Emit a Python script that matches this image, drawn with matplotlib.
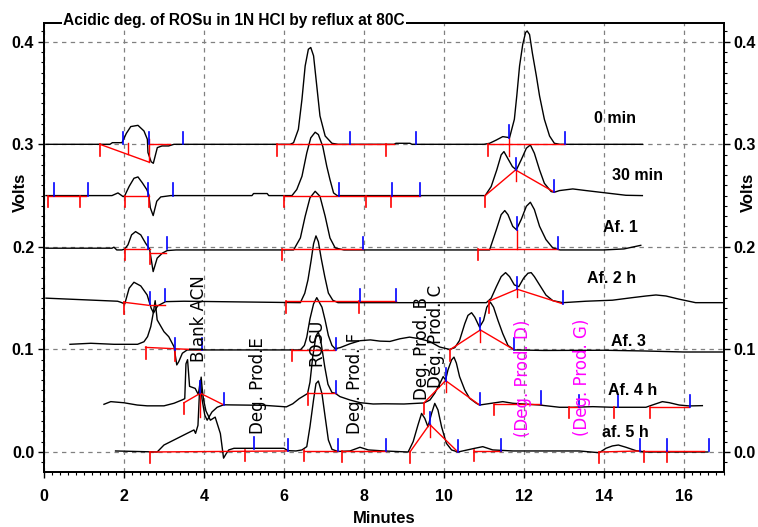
import matplotlib
matplotlib.use('Agg')
import matplotlib.pyplot as plt
from matplotlib.ticker import MultipleLocator, FormatStrFormatter

# ---- chromatogram data (minutes, volts above each trace's own baseline) ----
trace_names = ['0 min', '30 min', 'Af. 1', 'Af. 2 h', 'Af. 3', 'Af. 4 h', 'af. 5 h']
offsets = [0.300, 0.250, 0.198, 0.147, 0.0995, 0.048, 0.0]
label_x = [14.28, 14.85, 14.41, 14.18, 14.61, 14.71, 14.53]
label_y = [0.325, 0.270, 0.219, 0.169, 0.108, 0.060, 0.019]

t0_x = [0.05, 1.65, 1.71, 1.80, 1.95, 2.06, 2.17, 2.35, 2.50, 2.585, 2.60, 2.68, 2.734, 2.834,
        2.95, 3.116, 3.25, 6.157, 6.24, 6.36, 6.45, 6.53, 6.61, 6.67, 6.74, 6.82, 6.90, 7.03,
        7.20, 7.35, 8.75, 8.8, 9.15, 9.2, 11.0, 11.14, 11.30, 11.47, 11.64, 11.76, 11.82, 11.89,
        11.97, 12.04, 12.08, 12.14, 12.21, 12.31, 12.39, 12.51, 12.64, 12.76, 12.9, 14.96]
t0_y = [0, 0, 0.0016, 0.0016, 0.0016, 0.0107, 0.0173, 0.0185, 0.013, 0.0049, -0.008, -0.017,
        -0.0185, -0.0032, -0.0016, -0.0016, 0, 0, 0.0016, 0.0146, 0.0439, 0.0764, 0.0927,
        0.0944, 0.0863, 0.0570, 0.0277, 0.0081, 0.001, 0, 0, 0.001, 0.001, 0, 0, 0.001, 0.004,
        0.0075, 0.0065, 0.0244, 0.0471, 0.0764, 0.0976, 0.109, 0.1105, 0.107, 0.089, 0.0666,
        0.0471, 0.0244, 0.0081, 0.001, 0, 0]

t1_x = [0.05, 1.70, 1.85, 1.98, 2.02, 2.13, 2.25, 2.35, 2.46, 2.57, 2.62, 2.66, 2.73, 2.82,
        2.92, 3.17, 5.20, 5.24, 5.58, 5.62, 6.20, 6.32, 6.45, 6.57, 6.67, 6.78, 6.86, 6.97,
        7.07, 7.15, 7.24, 7.33, 11.03, 11.18, 11.32, 11.43, 11.50, 11.57, 11.71, 11.81, 11.93,
        12.06, 12.16, 12.26, 12.39, 12.51, 12.68, 12.76, 12.89, 13.22, 13.55, 14.05, 14.55, 14.96]
t1_y = [0, 0, 0.0026, -0.001, 0, 0.009, 0.0169, 0.0182, 0.0124, 0.0059, 0.001, -0.012,
        -0.0195, -0.0055, -0.0013, 0, 0, 0.002, 0.002, 0, 0, 0.0059, 0.0188, 0.0416, 0.0563,
        0.0618, 0.0595, 0.048, 0.0286, 0.0156, 0.0026, 0, 0, 0.0088, 0.0250, 0.0397, 0.0429,
        0.0380, 0.0283, 0.0250, 0.0348, 0.0462, 0.0494, 0.0413, 0.0250, 0.0120, 0.0039,
        0.0033, 0.0049, 0.0065, 0.0049, 0.0026, 0.0003, 0]

t2_x = [0.05, 1.5, 1.70, 1.75, 1.82, 1.95, 2.02, 2.10, 2.19, 2.29, 2.42, 2.54, 2.64, 2.73,
        2.83, 2.96, 3.08, 3.3, 6.24, 6.41, 6.53, 6.65, 6.78, 6.90, 7.03, 7.15, 7.28, 7.5, 11.14,
        11.31, 11.43, 11.52, 11.60, 11.72, 11.81, 11.93, 12.06, 12.16, 12.26, 12.39, 12.55,
        12.72, 12.9, 14.0, 14.5, 14.92]
t2_y = [0.0007, 0.0007, 0.0007, 0.0017, -0.001, -0.001, 0, 0.004, 0.0137, 0.0169, 0.0137,
        0.0056, 0, -0.0221, -0.009, -0.0041, -0.0016, -0.001, -0.001, 0.0107, 0.0318, 0.0498,
        0.0562, 0.0513, 0.0318, 0.0107, 0.001, -0.001, -0.001, 0.0188, 0.0334, 0.0374, 0.0334,
        0.0220, 0.0188, 0.0286, 0.0416, 0.0455, 0.0384, 0.0220, 0.0091, 0.001, -0.001, -0.001,
        0.0, 0.0035]

t3_x = [0.05, 1.84, 1.92, 2.02, 2.13, 2.25, 2.42, 2.58, 2.68, 2.74, 2.84, 3.04, 3.5, 6.41,
        6.52, 6.60, 6.68, 6.74, 6.80, 6.86, 6.93, 7.02, 7.11, 7.22, 7.35, 11.06, 11.18, 11.31,
        11.43, 11.54, 11.64, 11.76, 11.87, 11.99, 12.10, 12.18, 12.26, 12.39, 12.55, 12.72,
        12.97, 13.55, 14.21, 14.71, 15.05, 15.30, 15.55, 15.88, 16.29, 17.0]
t3_y = [0.003, 0, -0.001, -0.0026, 0.0127, 0.0185, 0.0149, 0.0061, -0.0068, -0.0114, -0.0046,
        -0.0004, 0, -0.0014, 0.0078, 0.0208, 0.040, 0.056, 0.0637, 0.058, 0.042, 0.024, 0.008,
        0.001, -0.0014, -0.0014, 0.0029, 0.0142, 0.024, 0.0279, 0.024, 0.0159, 0.0142, 0.0224,
        0.0273, 0.0279, 0.024, 0.0159, 0.006, 0.0006, -0.0014, 0, 0.001, 0.0035, 0.0051,
        0.0061, 0.0051, 0.002, -0.0014, -0.0014]

t4_x = [0.65, 1.17, 1.75, 2.34, 2.50, 2.59, 2.67, 2.73, 2.78, 2.83, 3.00, 3.12, 3.25, 3.32,
        3.37, 3.46, 3.58, 6.41, 6.51, 6.57, 6.65, 6.74, 6.82, 6.95, 7.03, 7.11, 7.20, 7.28,
        7.40, 7.65, 7.90, 8.16, 8.40, 8.65, 8.90, 9.14, 9.39, 9.64, 9.89, 10.14, 10.27, 10.39,
        10.52, 10.60, 10.69, 10.77, 10.89, 10.99, 11.07, 11.16, 11.24, 11.35, 11.47, 11.60,
        11.76, 12.5, 14.0, 15.0, 16.0, 17.0]
t4_y = [0.0055, 0.0065, 0.0055, 0.0055, 0.008, 0.013, 0.0227, 0.0355, 0.048, 0.0293, 0.0178,
        0.0129, 0.0032, -0.0146, -0.0114, -0.0032, 0, 0, 0.0044, 0.0125, 0.0303, 0.0449, 0.051,
        0.0417, 0.0288, 0.0141, 0.0044, 0.0012, 0.0022, 0.006, 0.009, 0.0098, 0.0086, 0.0083,
        0.0109, 0.0125, 0.0109, 0.0083, 0.0029, 0.0005, 0.0022, 0.0093, 0.0256, 0.0337, 0.0363,
        0.032, 0.0222, 0.0288, 0.0417, 0.0466, 0.0417, 0.0288, 0.0159, 0.0044, 0.0, -0.0005,
        -0.0003, -0.001, -0.002, -0.002]

t5_x = [1.50, 1.67, 2.00, 2.33, 2.58, 3.00, 3.25, 3.45, 3.52, 3.55, 3.59, 3.64, 3.78, 3.86,
        3.91, 3.95, 4.02, 4.08, 4.20, 4.33, 4.49, 5.5, 6.06, 6.22, 6.38, 6.59, 6.65, 6.72, 6.80,
        6.86, 6.93, 7.02, 7.10, 7.20, 7.28, 7.40, 7.65, 7.90, 8.23, 8.5, 9.0, 9.50, 9.65, 9.77,
        9.90, 9.98, 10.04, 10.10, 10.19, 10.25, 10.31, 10.39, 10.52, 10.64, 10.81, 10.89, 11.47,
        11.72, 12.39, 12.89, 13.22, 13.72, 14.21, 15.05, 15.21, 15.46, 15.63, 15.88, 16.13, 16.46]
t5_y = [-0.0015, 0.0011, 0.0, -0.0022, -0.003, -0.003, -0.0005, 0.0027, 0.004, 0.038, 0.042,
        0.016, 0.014, 0.008, 0.022, 0.004, -0.012, -0.017, -0.009, -0.0044, -0.002, -0.0025,
        -0.004, -0.001, 0.004, 0.009, 0.02, 0.045, 0.065, 0.069, 0.058, 0.035, 0.018, 0.010,
        0.0093, 0.006, 0.0027, 0.0001, -0.0012, -0.001, -0.0012, -0.0002, 0.0027, 0.0093,
        0.0190, 0.0255, 0.0222, 0.0320, 0.0418, 0.0445, 0.0387, 0.0255, 0.0125, 0.0044,
        -0.0005, -0.0022, 0.0011, -0.0005, -0.0022, -0.0044, -0.0044, -0.0038, -0.0044,
        -0.0044, -0.0022, 0.0011, 0.0001, -0.0022, -0.0031, -0.0028]

t6_x = [1.79, 2.83, 3.00, 3.25, 3.58, 3.75, 3.79, 3.85, 3.89, 3.93, 3.96, 3.99, 4.05, 4.16,
        4.28, 4.41, 4.49, 4.55, 4.62, 4.75, 6.0, 6.1, 6.3, 6.45, 6.57, 6.65, 6.74, 6.80, 6.86,
        6.95, 7.03, 7.11, 7.20, 7.35, 7.65, 7.90, 8.11, 8.5, 9.105, 9.23, 9.35, 9.44, 9.52,
        9.60, 9.69, 9.77, 9.85, 9.94, 10.06, 10.19, 10.35, 10.77, 10.97, 11.22, 11.72, 13.38,
        13.88, 14.05, 14.21, 14.36, 14.55, 14.80, 15.05, 16.6]
t6_y = [0.001, 0.0, 0.0068, 0.0117, 0.0182, 0.0215, 0.0182, 0.026, 0.06, 0.073, 0.06, 0.051,
        0.04, 0.031, 0.034, 0.018, -0.006, -0.002, 0.002, 0.0036, 0.0036, 0.0013, 0.001, 0.002,
        0.0052, 0.0247, 0.051, 0.0667, 0.0692, 0.0569, 0.0341, 0.0117, 0.0026, 0.0005, 0.001,
        0.0046, 0.002, 0.001, 0.0, 0.0101, 0.0263, 0.0376, 0.0328, 0.0246, 0.0376, 0.0474,
        0.0410, 0.0246, 0.0085, 0.002, 0.0, 0.0036, 0.0052, 0.002, 0.001, 0.001, -0.0007,
        0.0036, 0.0059, 0.0068, 0.0046, 0.0013, 0.0, 0.0]

# integration baselines (x0, y0, x1, y1), start/end marks (x, y)
red0 = [(1.40, 0, 2.62, -0.0173), (2.09, 0.0016, 2.09, -0.0097), (2.62, 0.0049, 2.62, -0.0173),
        (2.62, 0, 3.15, 0), (5.82, 0, 8.75, 0), (11.10, 0, 13.03, 0), (11.62, 0.0065, 11.62, -0.011)]
red1 = [(0.09, 0, 1.05, 0), (2.02, 0, 2.62, 0), (6.0, 0, 9.41, 0), (11.03, 0, 11.79, 0.025),
        (11.79, 0.025, 12.76, 0.0033), (11.79, 0.025, 11.79, 0.0139)]
red2 = [(2.02, 0, 2.64, 0), (2.66, -0.004, 3.05, -0.004), (5.95, 0, 7.98, 0), (10.85, 0, 12.86, 0),
        (11.82, 0.0188, 11.82, 0)]
red3 = [(2.0, -0.001, 2.62, -0.004), (2.66, -0.004, 3.02, -0.004), (6.05, 0, 8.8, 0),
        (11.12, 0, 11.83, 0.0117), (11.83, 0.0117, 12.97, -0.0025), (11.83, 0.0117, 11.83, 0.0045)]
red4 = [(2.54, 0.0025, 3.94, 0.0), (6.2, 0, 7.28, 0.0), (10.14, 0, 10.91, 0.0195),
        (10.91, 0.0195, 11.76, 0), (10.91, 0.0195, 10.91, 0.008)]
red5 = [(3.50, 0.0, 3.91, 0.0093), (3.91, 0.0093, 4.49, -0.002), (3.91, 0.0093, 3.91, -0.0135),
        (6.61, 0.0093, 7.30, 0.0093), (9.50, -0.0002, 10.04, 0.0216), (10.04, 0.0216, 10.89, -0.0022),
        (10.04, 0.0216, 10.04, 0.0108), (11.25, -0.001, 12.43, -0.001), (13.12, -0.004, 13.37, -0.004),
        (15.15, -0.004, 16.13, -0.004)]
red6 = [(2.64, 0, 6.09, 0.001), (6.51, 0.001, 7.35, 0.001), (7.45, 0.001, 8.54, 0.001),
        (9.15, 0, 9.64, 0.027), (9.64, 0.027, 10.35, 0), (9.64, 0.027, 9.64, 0.0149),
        (10.75, 0.001, 11.43, 0.001), (13.88, 0, 14.9, 0.001), (15.0, 0.001, 16.5, 0.001)]

rdn0 = [(1.40, 0), (5.82, 0), (8.56, 0), (11.10, 0)]
rdn1 = [(0.09, 0), (0.90, 0), (2.02, 0), (2.62, 0), (6.0, 0), (8.04, 0), (8.67, 0), (11.03, 0)]
rdn2 = [(2.02, 0), (2.66, -0.004), (5.95, 0), (10.85, 0)]
rdn3 = [(2.0, -0.001), (6.05, 0), (7.88, 0), (11.12, 0)]
rdn4 = [(2.54, 0.0025), (3.27, 0.0), (6.2, 0), (10.14, 0)]
rdn5 = [(3.50, 0), (6.61, 0.0093), (9.50, 0), (11.25, -0.001), (13.12, -0.004), (14.26, -0.004),
        (15.15, -0.004)]
rdn6 = [(2.64, 0), (5.02, 0.002), (6.51, 0.002), (7.45, 0.001), (9.15, 0), (10.75, 0.002),
        (13.88, 0), (15.0, 0.001), (15.58, 0.001)]

bup0 = [(1.98, 0), (2.62, 0), (3.47, 0), (7.65, 0), (9.3, 0), (11.62, 0.0065), (13.03, 0)]
bup1 = [(0.24, 0), (1.10, 0), (2.61, 0), (3.22, 0), (7.38, 0), (8.71, 0), (9.41, 0),
        (11.79, 0.025), (12.76, 0.0033)]
bup2 = [(2.61, 0), (3.08, 0), (7.98, 0), (11.82, 0.0188), (12.86, 0)]
bup3 = [(2.64, -0.003), (3.02, 0), (7.9, 0), (8.8, 0), (11.83, 0.0117), (12.97, -0.0025)]
bup4 = [(3.27, 0), (3.94, 0), (7.3, 0), (10.91, 0.0195), (11.76, 0)]
bup5 = [(3.91, 0.0093), (4.49, -0.002), (7.30, 0.0093), (10.04, 0.0216), (10.89, -0.0022),
        (12.43, -0.001), (13.37, -0.004), (14.36, -0.004), (16.15, -0.004)]
bup6 = [(5.24, 0.003), (6.09, 0.001), (7.35, 0.001), (8.54, 0.001), (9.64, 0.027), (10.35, 0),
        (11.43, 0.001), (14.9, 0.001), (15.58, 0.001), (16.62, 0.001)]

# peak annotations
ann_text = ['Blank ACN', 'Deg. Prod.E', 'ROSU', 'Deg. Prod. F', 'Deg. Prod. B', 'Deg. Prod. C',
            '(Deg. Prod. D)', '(Deg. Prod. G)']
ann_x = [3.88, 5.35, 6.82, 7.78, 9.44, 9.80, 11.97, 13.45]
ann_y = [0.130, 0.065, 0.107, 0.067, 0.101, 0.1125, 0.072, 0.0727]
ann_color = ['black'] * 6 + ['#ff00ff'] * 2

xs = [t0_x, t1_x, t2_x, t3_x, t4_x, t5_x, t6_x]
ys = [t0_y, t1_y, t2_y, t3_y, t4_y, t5_y, t6_y]
reds = [red0, red1, red2, red3, red4, red5, red6]
rdns = [rdn0, rdn1, rdn2, rdn3, rdn4, rdn5, rdn6]
bups = [bup0, bup1, bup2, bup3, bup4, bup5, bup6]

bold = dict(family='Liberation Sans', fontweight='bold')

fig = plt.figure(figsize=(7.58, 5.27), dpi=100)
ax = fig.add_axes([0.058, 0.1038, 0.8971, 0.852])

for i in range(7):
    off = offsets[i]
    ax.plot(xs[i], [v + off for v in ys[i]], color='black', lw=1.0, zorder=2)
    for x0, y0, x1, y1 in reds[i]:
        ax.plot([x0, x1], [y0 + off, y1 + off], color='#ff0000', lw=1.0, zorder=3)
    for x, y in rdns[i]:
        ax.plot([x, x], [y + off, y + off - 0.011], color='#ff0000', lw=1.2, zorder=3)
    for x, y in bups[i]:
        ax.plot([x, x], [y + off, y + off + 0.012], color='#0000ff', lw=1.2, zorder=3)
    ax.text(label_x[i], label_y[i], trace_names[i], ha='center', va='center', fontsize=11.5,
            zorder=4, **bold)

for t, x, y, c in zip(ann_text, ann_x, ann_y, ann_color):
    ax.text(x, y, t, rotation=90, ha='center', va='center', fontsize=12, color=c,
            family='DejaVu Sans', zorder=4)

ax.set_xlim(0, 17)
ax.set_ylim(-0.0198, 0.418)
ax.xaxis.set_major_locator(MultipleLocator(2))
ax.xaxis.set_minor_locator(MultipleLocator(0.2))
ax.yaxis.set_major_locator(MultipleLocator(0.1))
ax.yaxis.set_minor_locator(MultipleLocator(0.01))
ax.yaxis.set_major_formatter(FormatStrFormatter('%.1f'))
ax.grid(True, which='major', color='#808080', ls=(0, (3.5, 3.5)), lw=0.9, zorder=0)
ax.set_axisbelow(True)

ax2 = ax.twinx()
ax2.set_ylim(ax.get_ylim())
ax2.yaxis.set_major_locator(MultipleLocator(0.1))
ax2.yaxis.set_minor_locator(MultipleLocator(0.01))
ax2.yaxis.set_major_formatter(FormatStrFormatter('%.1f'))

for a in (ax, ax2):
    a.tick_params(which='major', length=4, width=1.0, labelsize=11.5)
    a.tick_params(which='minor', length=2.2, width=0.8)
    for lab in a.get_xticklabels() + a.get_yticklabels():
        lab.set_fontweight('bold')
        lab.set_family('Liberation Sans')
    for s in a.spines.values():
        s.set_linewidth(1.3)
ax.tick_params(axis='x', pad=8)
ax.tick_params(axis='y', pad=3)
ax2.tick_params(axis='y', pad=2.5)

fig.text(0.0264, 0.6357, 'Volts', rotation=90, ha='center', va='center', fontsize=12, **bold)
fig.text(0.9868, 0.6357, 'Volts', rotation=90, ha='center', va='center', fontsize=12, **bold)
fig.text(0.5066, 0.017, 'Minutes', ha='center', va='center', fontsize=12, **bold)
fig.text(63 / 758, 1 - 20 / 527, 'Acidic deg. of ROSu in 1N HCl by reflux at 80C', ha='left',
         va='center', fontsize=11.2, zorder=5,
         bbox=dict(facecolor='white', edgecolor='none', pad=1.0), **bold)

fig.savefig('out.png', dpi=100)
